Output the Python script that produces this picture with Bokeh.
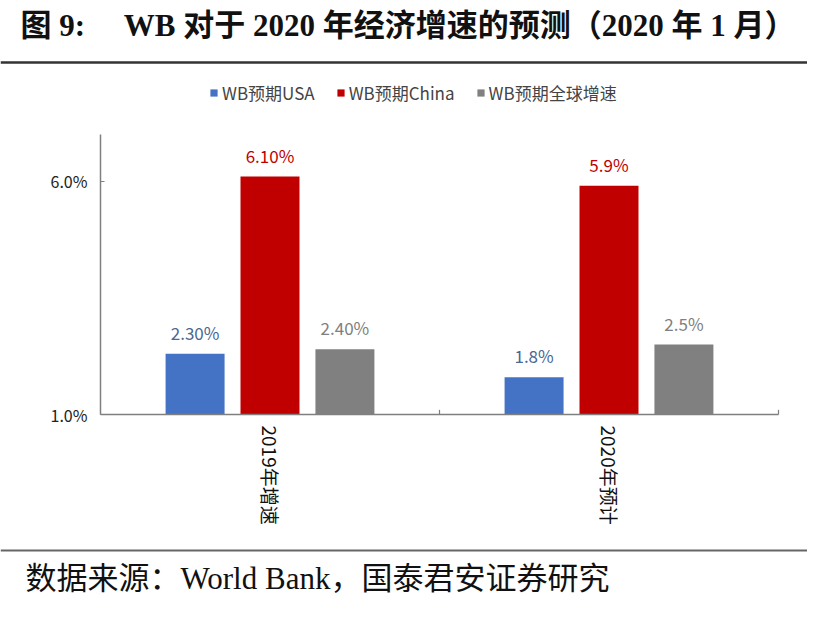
from bokeh.plotting import figure
from bokeh.models import (ColumnDataSource, Range1d, FixedTicker, LinearAxis,
                          PrintfTickFormatter, Legend, LegendItem, LabelSet, Label, Span)
from bokeh.transform import dodge
from bokeh.embed import file_html
from bokeh.resources import INLINE
from bokeh.core.properties import value
import math

# ---------------- data ----------------
title_text = "图 9:\u3000\u00a0WB 对于 2020 年经济增速的预测（2020 年 1 月）"
source_text = "数据来源：World Bank，国泰君安证券研究"
categories = ["2019年增速", "2020年预计"]
series = ["WB预期USA", "WB预期China", "WB预期全球增速"]
usa = [2.3, 1.8]
china = [6.1, 5.9]
world = [2.4, 2.5]
usa_labels = ["2.30%", "1.8%"]
china_labels = ["6.10%", "5.9%"]
world_labels = ["2.40%", "2.5%"]
y_ticks = [1.0, 6.0]
y_min, y_max = 1.0, 7.0

# ---------------- styles / layout ----------------
bar_colors = ["#4472C4", "#C00000", "#808080"]
label_colors = ["#4A6791", "#C00000", "#808080"]
W, H = 807, 603
AX_L, AX_R, AX_T, AX_B = 100, 778, 134, 414   # chart area in canvas pixels
SERIF = "Liberation Serif, Noto Sans CJK SC"
SANS = "Noto Sans CJK SC"

n = len(categories)
# the frame covers the whole canvas; ranges are extended so the chart area lands where wanted
xpp = n / (AX_R - AX_L)
ypp = (y_max - y_min) / (AX_B - AX_T)
x_range = Range1d(-AX_L * xpp, n + (W - AX_R) * xpp)
y_range = Range1d(y_min - (H - AX_B) * ypp, y_max + AX_T * ypp)

p = figure(width=W, height=H, x_range=x_range, y_range=y_range, title=None,
           output_backend="svg", toolbar_location=None, min_border=0,
           x_axis_location=None, y_axis_location=None)
p.outline_line_color = None
p.grid.visible = False

centers = [i + 0.5 for i in range(n)]
src = ColumnDataSource(dict(xc=centers, usa=usa, china=china, world=world,
                            usa_l=usa_labels, china_l=china_labels, world_l=world_labels,
                            base=[y_min] * n))

offs = [-0.221, 0.0, 0.221]
cols = ["usa", "china", "world"]
lcols = ["usa_l", "china_l", "world_l"]
renderers = []
for off, c, lc, bc, tc in zip(offs, cols, lcols, bar_colors, label_colors):
    r = p.vbar(x=dodge("xc", off), top=c, bottom="base", width=0.174,
               source=src, fill_color=bc, line_color=None)
    renderers.append(r)
    lab = LabelSet(x=dodge("xc", off), y=c, text=lc, source=src,
                   text_align="center", text_baseline="bottom", y_offset=9,
                   text_font=value(SANS), text_font_size="17px", text_color=tc)
    p.add_layout(lab)

# small category separator ticks
bounds = list(range(1, n + 1))
p.segment(x0=bounds, x1=bounds, y0=[y_min] * n, y1=[y_min + 0.1] * n,
          line_color="#7f7f7f", line_width=1.2)

# axes placed at fixed data locations
yax = LinearAxis(fixed_location=0, bounds=(y_min, y_max),
                 ticker=FixedTicker(ticks=y_ticks),
                 formatter=PrintfTickFormatter(format="%.1f%%"))
yax.major_tick_in = 4
yax.major_tick_out = 0
yax.minor_tick_line_color = None
yax.axis_line_color = "#7f7f7f"
yax.axis_line_width = 1.5
yax.major_tick_line_color = "#7f7f7f"
yax.major_label_text_font = SANS
yax.major_label_text_font_size = "16px"
yax.major_label_text_color = "#222222"
yax.major_label_standoff = 13
p.add_layout(yax, "left")

xax = LinearAxis(fixed_location=y_min, bounds=(0, n),
                 ticker=FixedTicker(ticks=centers),
                 major_label_overrides={c: lab for c, lab in zip(centers, categories)})
xax.axis_line_color = "#7f7f7f"
xax.axis_line_width = 1.5
xax.major_tick_line_color = None
xax.minor_tick_line_color = None
xax.major_label_orientation = -math.pi / 2
xax.major_label_text_font = SANS
xax.major_label_text_font_size = "19px"
xax.major_label_text_color = "#111111"
xax.major_label_standoff = 5
p.add_layout(xax, "below")

legend = Legend(items=[LegendItem(label=s, renderers=[r]) for s, r in zip(series, renderers)],
                orientation="horizontal", location=(209, H - 105),
                border_line_color=None, background_fill_alpha=0,
                label_text_font=SANS, label_text_font_size="17px",
                glyph_width=9, glyph_height=9, label_standoff=4, spacing=21,
                padding=0, margin=0)
p.add_layout(legend, "center")

# title, source and rules (screen units measured from the canvas' bottom-left)
p.add_layout(Label(x=20, y=H - 25, x_units="screen", y_units="screen",
                   text=title_text, text_font=SERIF, text_font_size="31px",
                   text_font_style="bold", text_baseline="middle", text_color="#111111"))
p.add_layout(Span(location=H - 62, location_units="screen", dimension="width",
                  line_color="#333333", line_width=2.5))
p.add_layout(Span(location=H - 550, location_units="screen", dimension="width",
                  line_color="#666666", line_width=2))
p.add_layout(Label(x=25, y=H - 578, x_units="screen", y_units="screen",
                   text=source_text, text_font=SERIF, text_font_size="31px",
                   text_baseline="middle", text_color="#111111"))

open("out.html", "w").write(file_html(p, INLINE))
